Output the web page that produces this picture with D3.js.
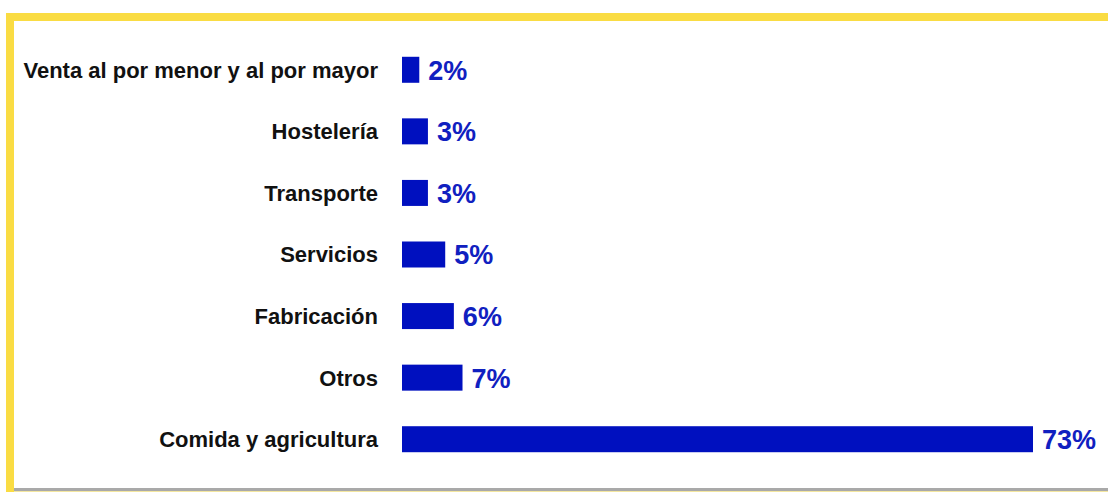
<!DOCTYPE html>
<html>
<head>
<meta charset="utf-8">
<script src="https://cdn.jsdelivr.net/npm/d3@7"></script>
<style>
  html, body { margin: 0; padding: 0; background: #fff; }
  svg { display: block; }
</style>
</head>
<body>
<svg id="chart" width="1108" height="492"></svg>
<script>
// Sector shares (percent), top to bottom
const categories = [
  "Venta al por menor y al por mayor",
  "Hostelería",
  "Transporte",
  "Servicios",
  "Fabricación",
  "Otros",
  "Comida y agricultura"
];
const values = [2, 3, 3, 5, 6, 7, 73];
const valueLabels = ["2%", "3%", "3%", "5%", "6%", "7%", "73%"];

const W = 1108, H = 492;
const svg = d3.select("#chart");

// Frame: yellow top and left bands, grey base line
svg.append("rect").attr("x", 0).attr("y", 0).attr("width", W).attr("height", H).attr("fill", "#fff");
svg.append("rect").attr("x", 6).attr("y", 13).attr("width", W - 6).attr("height", 8).attr("fill", "#FADC43");
svg.append("rect").attr("x", 6).attr("y", 13).attr("width", 8).attr("height", H - 13).attr("fill", "#FADC43");
svg.append("rect").attr("x", 14).attr("y", 488).attr("width", W - 14).attr("height", 3).attr("fill", "#A9A9A9");
svg.append("rect").attr("x", 14).attr("y", 491).attr("width", W - 14).attr("height", 1).attr("fill", "#F3E6A0");

const x = d3.scaleLinear().domain([0, 73]).range([402, 1033]);
const y = d3.scaleBand().domain(categories).range([39, 470]).paddingInner(0.58).paddingOuter(0.29);

const rows = categories.map((c, i) => ({ c, v: values[i], t: valueLabels[i] }));

svg.selectAll("rect.bar").data(rows).enter().append("rect")
  .attr("class", "bar")
  .attr("x", x(0))
  .attr("y", d => y(d.c) + y.bandwidth() / 2 - 13)
  .attr("width", d => x(d.v) - x(0))
  .attr("height", 26)
  .attr("fill", "#0010BF");

// Category labels
svg.selectAll("text.cat").data(rows).enter().append("text")
  .attr("class", "cat")
  .attr("x", 378)
  .attr("y", d => y(d.c) + y.bandwidth() / 2)
  .attr("dy", "0.36em")
  .attr("text-anchor", "end")
  .attr("font-family", "'Liberation Sans', Arial, sans-serif")
  .attr("font-weight", "bold")
  .attr("font-size", 22)
  .attr("fill", "#111")
  .text(d => d.c);

// Value labels
svg.selectAll("text.val").data(rows).enter().append("text")
  .attr("class", "val")
  .attr("x", d => x(d.v) + 9)
  .attr("y", d => y(d.c) + y.bandwidth() / 2)
  .attr("dy", "0.37em")
  .attr("font-family", "'Liberation Sans', Arial, sans-serif")
  .attr("font-weight", "bold")
  .attr("font-size", 27)
  .attr("fill", "#1020C0")
  .text(d => d.t);
</script>
</body>
</html>
